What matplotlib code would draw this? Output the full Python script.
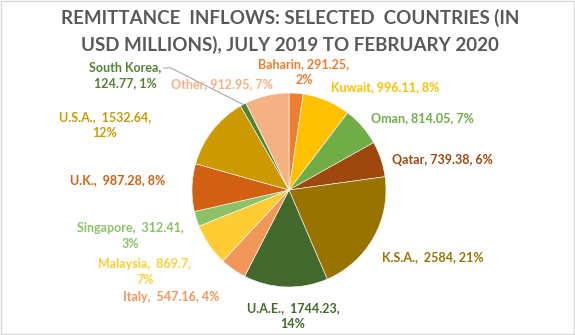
import matplotlib.pyplot as plt
import numpy as np
from matplotlib.patches import Rectangle
from matplotlib.lines import Line2D

countries = ['Baharin', 'Kuwait', 'Oman', 'Qatar', 'K.S.A.', 'U.A.E.', 'Italy',
             'Malaysia', 'Singapore', 'U.K.', 'U.S.A.', 'South Korea', 'Other']
values = [291.25, 996.11, 814.05, 739.38, 2584, 1744.23, 547.16,
          869.7, 312.41, 987.28, 1532.64, 124.77, 912.95]
labels = ['Baharin, 291.25,\n2%', 'Kuwait, 996.11, 8%', 'Oman, 814.05, 7%',
          'Qatar, 739.38, 6%', 'K.S.A.,  2584, 21%', 'U.A.E.,  1744.23,\n14%',
          'Italy,  547.16, 4%', 'Malaysia,  869.7,\n7%', 'Singapore,  312.41,\n3%',
          'U.K.,  987.28, 8%', 'U.S.A.,  1532.64,\n12%', 'South Korea,\n124.77, 1%',
          'Other, 912.95, 7%']
colors = ['#ED7D31', '#FFC000', '#70AD47', '#9E480E', '#997300', '#43682B', '#F1975A',
          '#FFCD33', '#8CC168', '#D26012', '#CC9A00', '#548235', '#F4B183']
# label centres in pixels (x, y from top)
label_pos = [(304, 72), (385, 87), (422, 118), (442, 160), (433, 257), (293, 316),
             (171, 297), (145, 272), (130, 236), (118, 180), (105, 125), (125, 75),
             (222, 84)]

W, H = 575, 335
plt.rcParams['font.family'] = ['Lato', 'DejaVu Sans']
fig = plt.figure(figsize=(W / 100, H / 100), dpi=100)

cx, cy, r = 289, 190, 97
ax = fig.add_axes([(cx - r) / W, (H - cy - r) / H, 2 * r / W, 2 * r / H])
wedges, _ = ax.pie(values, colors=colors, startangle=90, counterclock=False,
                   radius=1, wedgeprops=dict(edgecolor='white', linewidth=0.4))
ax.set_xlim(-1, 1)
ax.set_ylim(-1, 1)
ax.set_aspect('equal')
ax.axis('off')

line_h = 16.5
for i, (lab, (px, py)) in enumerate(zip(labels, label_pos)):
    rows = lab.split('\n')
    top = py - line_h * (len(rows) - 1) / 2
    for k, row in enumerate(rows):
        fig.text(px / W, 1 - (top + k * line_h) / H, row, ha='center', va='center',
                 fontsize=9, fontweight='bold', color=colors[i])

# leader line for South Korea
w = wedges[countries.index('South Korea')]
mid = np.deg2rad((w.theta1 + w.theta2) / 2)
ex, ey = ax.transData.transform((np.cos(mid), np.sin(mid)))
ex, ey = ex / W, ey / H
x0, y0 = 164 / W, 1 - 68 / H
x1 = 171 / W
fig.lines.append(Line2D([x0, x1, ex], [y0, y0, ey], transform=fig.transFigure,
                        color='#A6A6A6', lw=0.8))

fig.text(0.505, 1 - 18 / H, 'REMITTANCE  INFLOWS: SELECTED  COUNTRIES (IN',
         ha='center', va='center', fontsize=13.5, fontweight='bold', color='#595959')
fig.text(0.505, 1 - 45 / H, 'USD MILLIONS), JULY 2019 TO FEBRUARY 2020',
         ha='center', va='center', fontsize=13.5, fontweight='bold', color='#595959')

fig.patches.append(Rectangle((0.002, 0.003), 0.996, 0.994, transform=fig.transFigure,
                             fill=False, edgecolor='#D9D9D9', lw=1))

fig.savefig('out.png', dpi=100)
